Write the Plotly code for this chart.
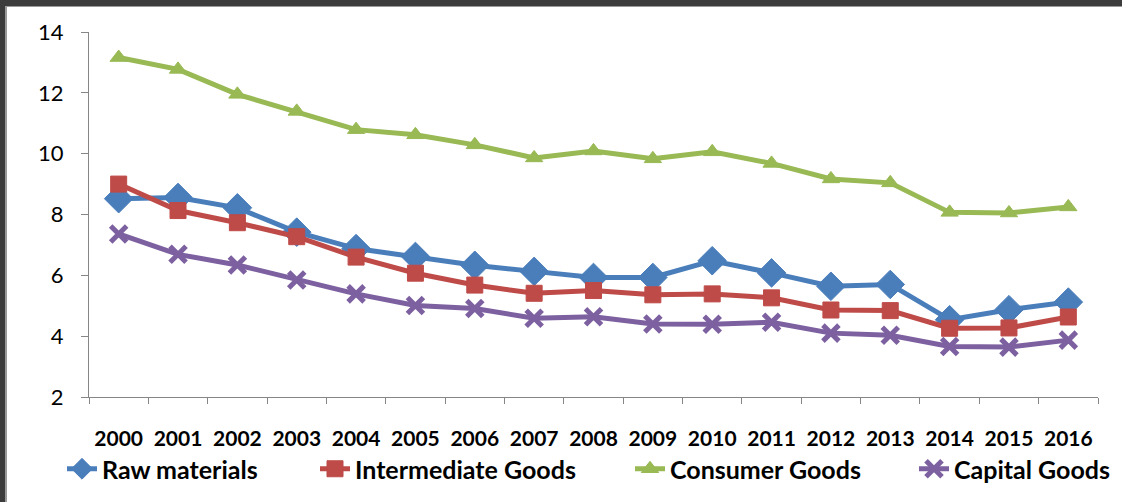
import plotly.graph_objects as go

years = [str(y) for y in range(2000, 2017)]
raw_materials = [8.52, 8.56, 8.22, 7.42, 6.88, 6.62, 6.33, 6.13, 5.93, 5.93, 6.48, 6.08, 5.64, 5.70, 4.54, 4.87, 5.12]
intermediate = [9.00, 8.13, 7.73, 7.27, 6.60, 6.07, 5.68, 5.41, 5.50, 5.36, 5.39, 5.26, 4.86, 4.84, 4.26, 4.27, 4.63]
consumer = [13.16, 12.77, 11.95, 11.39, 10.79, 10.62, 10.29, 9.86, 10.09, 9.83, 10.06, 9.68, 9.17, 9.04, 8.07, 8.05, 8.25]
capital = [7.36, 6.69, 6.34, 5.85, 5.39, 5.01, 4.91, 4.59, 4.64, 4.40, 4.39, 4.46, 4.10, 4.03, 3.66, 3.64, 3.87]

FONT = "Lato, Arial, sans-serif"
W, H = 1122, 502
L, R, T, B = 89, 24, 32, 105
PW, PH = W - L - R, H - T - B

series = [
    ("Raw materials", raw_materials, "#4A7EBB", "diamond", 22, "legend", 62),
    ("Intermediate Goods", intermediate, "#BE4B48", "square", 16, "legend2", 315),
    ("Consumer Goods", consumer, "#98B954", "triangle-up", 15, "legend3", 630),
    ("Capital Goods", capital, "#7D60A0", "x-thin-open", 16, "legend4", 914),
]

fig = go.Figure()
legends = {}
for name, vals, col, sym, sz, lg, lx in series:
    if sym == "x-thin-open":
        marker = dict(symbol=sym, size=sz, color=col, line=dict(color=col, width=5))
    else:
        marker = dict(symbol=sym, size=sz, color=col, line=dict(color=col, width=1))
    fig.add_trace(go.Scatter(x=years, y=vals, name=name, mode="lines+markers", legend=lg,
                             line=dict(color=col, width=5), marker=marker))
    legends[lg] = dict(orientation="h", xref="paper", yref="paper",
                       x=(lx - L) / PW, xanchor="left", y=(T + PH - 469) / PH, yanchor="middle",
                       bgcolor="rgba(0,0,0,0)",
                       font=dict(size=25, family=FONT, weight="bold", color="black"))

fig.update_layout(
    width=W, height=H,
    margin=dict(l=L, r=R, t=T, b=B, autoexpand=False),
    paper_bgcolor="white", plot_bgcolor="white",
    font=dict(family=FONT, color="black"),
    showlegend=True,
    xaxis=dict(type="category", showgrid=False, showline=True, linecolor="#868686", linewidth=1,
               ticks="outside", ticklen=6, tickcolor="#868686", tickson="boundaries",
               tickfont=dict(size=21, family=FONT, weight="bold", color="black"),
               ticklabelstandoff=23, range=[-0.5, 16.5]),
    yaxis=dict(range=[2, 14], dtick=2, showgrid=False, showline=True, linecolor="#868686", linewidth=1,
               ticks="outside", ticklen=7, tickcolor="#868686",
               tickfont=dict(size=22, family=FONT, color="black"),
               ticklabelstandoff=13, zeroline=False),
    shapes=[
        dict(type="rect", xref="paper", yref="paper", x0=-L/PW, x1=(W-L)/PW,
             y0=1 + (T-6)/PH, y1=1 + T/PH, fillcolor="#3C3C3C", line=dict(width=0), layer="above"),
        dict(type="rect", xref="paper", yref="paper", x0=-L/PW, x1=(W-L)/PW,
             y0=1 + (T-7)/PH, y1=1 + (T-6)/PH, fillcolor="#9A9A9A", line=dict(width=0), layer="above"),
        dict(type="rect", xref="paper", yref="paper", x0=-L/PW, x1=-(L-5)/PW,
             y0=-B/PH, y1=1 + T/PH, fillcolor="#3C3C3C", line=dict(width=0), layer="above"),
        dict(type="rect", xref="paper", yref="paper", x0=-(L-5)/PW, x1=-(L-7)/PW,
             y0=-B/PH, y1=1 + (T-6)/PH, fillcolor="#9A9A9A", line=dict(width=0), layer="above"),
    ],
    **legends,
)

fig.write_html("out.html")
